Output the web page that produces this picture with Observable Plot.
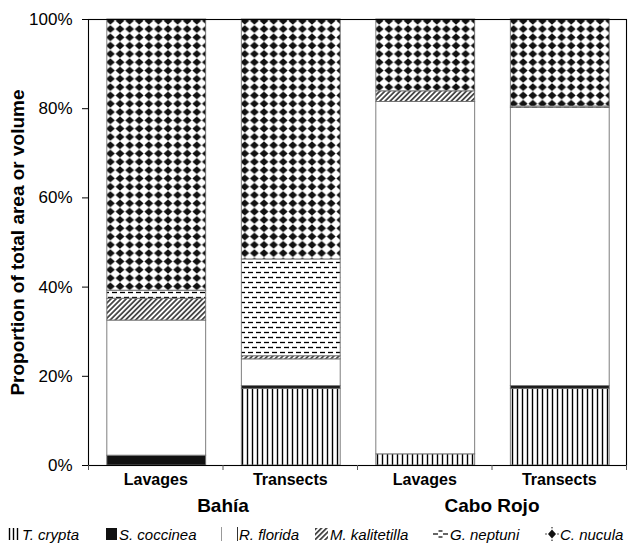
<!DOCTYPE html>
<html><head><meta charset="utf-8">
<script src="https://cdn.jsdelivr.net/npm/d3@7"></script>
<script src="https://cdn.jsdelivr.net/npm/@observablehq/plot@0.6"></script>
<style>
body{margin:0;background:#fff;font-family:"Liberation Sans",Arial,sans-serif;}
#chart{position:relative;width:628px;}
.legend{position:relative;height:26px;width:628px;}
.item{position:absolute;top:5px;height:22px;display:flex;align-items:center;font-style:italic;font-size:15px;color:#000;white-space:nowrap;}
.item svg{display:block;}
</style></head><body><div id="chart"></div>
<script>
// ---- data ----
const categories = ["Lavages", "Transects", "Lavages", "Transects"];
const sites = ["Bahía", "Bahía", "Cabo Rojo", "Cabo Rojo"];
const siteNames = ["Bahía", "Cabo Rojo"];
const species = ["T. crypta", "S. coccinea", "R. florida", "M. kalitetilla", "G. neptuni", "C. nucula"];
// percent of total per bar (bottom to top order = species order)
const tCrypta      = [0.0, 17.2,  2.5, 17.2];
const sCoccinea    = [2.2,  0.6,  0.0,  0.6];
const rFlorida     = [30.3, 6.0, 79.0, 62.4];
const mKalitetilla = [4.9,  0.7,  2.4,  0.0];
const gNeptuni     = [1.8, 21.7,  0.0,  0.3];
const cNucula      = [60.8, 53.8, 16.1, 19.5];
const yTicks = [0, 20, 40, 60, 80, 100];
const yLabel = "Proportion of total area or volume";

// ---- build table ----
const seriesValues = [tCrypta, sCoccinea, rFlorida, mKalitetilla, gNeptuni, cNucula];
const patternIds = ["p-tc", "p-sc", "p-rf", "p-mk", "p-gn", "p-cn"];
const rows = [];
categories.forEach((cat, i) => {
  let acc = 0;
  species.forEach((sp, s) => {
    const v = seriesValues[s][i];
    if (v > 0) {
      rows.push({bar: i, x1: i + 0.14, x2: i + 0.875, y1: acc, y2: acc + v, fill: `url(#${patternIds[s]})`, species: sp});
    }
    acc += v;
  });
});
const catRows = categories.map((c, i) => ({xc: i + 0.5, text: c}));
const siteRows = siteNames.map((s, j) => ({xc: 2 * j + 1, text: s}));
const boundaries = d3.range(0, categories.length + 1);

const svg = Plot.plot({
  width: 628, height: 518,
  marginTop: 19, marginLeft: 88, marginRight: 2, marginBottom: 53,
  x: {domain: [0, categories.length]},
  y: {domain: [0, 100]},
  color: {type: "identity"},
  style: {fontFamily: "Liberation Sans, Arial, sans-serif", background: "white", color: "black"},
  marks: [
    Plot.rect(rows, {x1: "x1", x2: "x2", y1: "y1", y2: "y2", fill: "fill", stroke: "#707070", strokeWidth: 0.9}),
    Plot.frame({stroke: "black", strokeWidth: 1.1}),
    Plot.axisY(yTicks, {tickSize: 6, tickPadding: 10, tickFormat: d => d + "%", fontSize: 17, label: null, stroke: "black"}),
    Plot.axisX(boundaries, {tickSize: 5, tickFormat: () => "", label: null, stroke: "#555"}),
    Plot.text(catRows, {x: "xc", text: "text", frameAnchor: "bottom", dy: 19, fontWeight: "bold", fontSize: 16}),
    Plot.text(siteRows, {x: "xc", text: "text", frameAnchor: "bottom", dy: 46, fontWeight: "bold", fontSize: 19}),
    Plot.text([yLabel], {frameAnchor: "left", textAnchor: "middle", rotate: -90, dx: -71, fontWeight: "bold", fontSize: 19})
  ]
});

// ---- patterns ----
const defs = d3.select(svg).insert("defs", ":first-child");
function pat(id, w, h, transform) {
  const p = defs.append("pattern").attr("id", id).attr("patternUnits", "userSpaceOnUse")
    .attr("width", w).attr("height", h);
  if (transform) p.attr("patternTransform", transform);
  p.append("rect").attr("width", w).attr("height", h).attr("fill", "white");
  return p;
}
// T. crypta: vertical lines
pat("p-tc", 5, 10).append("line").attr("x1", 2.5).attr("x2", 2.5).attr("y1", 0).attr("y2", 10)
  .attr("stroke", "black").attr("stroke-width", 1.4);
// S. coccinea: solid black
defs.append("pattern").attr("id", "p-sc").attr("patternUnits", "userSpaceOnUse").attr("width", 4).attr("height", 4)
  .append("rect").attr("width", 4).attr("height", 4).attr("fill", "#111");
// R. florida: white
pat("p-rf", 4, 4);
// M. kalitetilla: diagonal hatch
pat("p-mk", 3.6, 3.6, "rotate(45)").append("line").attr("x1", 1.8).attr("x2", 1.8).attr("y1", 0).attr("y2", 3.6)
  .attr("stroke", "black").attr("stroke-width", 1.3);
// G. neptuni: staggered horizontal dashes
{
  const p = pat("p-gn", 16, 10);
  [[0, 2.5, 5], [8, 2.5, 13], [4, 7.5, 9], [12, 7.5, 16]].forEach(([a, y, b]) =>
    p.append("line").attr("x1", a).attr("x2", b).attr("y1", y).attr("y2", y).attr("stroke", "black").attr("stroke-width", 1.3));
  p.append("line").attr("x1", 0).attr("x2", 1).attr("y1", 7.5).attr("y2", 7.5).attr("stroke", "black").attr("stroke-width", 1.3);
}
// C. nucula: diamond lattice
{
  const w = 9.6, h = 8.3, k = 0.92;
  const p = pat("p-cn", w, h);
  const cx = w / 2, cy = h / 2, rx = w / 2 * k, ry = h / 2 * k;
  p.append("path").attr("d", `M${cx},${cy - ry}L${cx + rx},${cy}L${cx},${cy + ry}L${cx - rx},${cy}Z`).attr("fill", "#111");
}

document.getElementById("chart").appendChild(svg);

// ---- legend ----
const legend = d3.select("body").append("div").attr("class", "legend");
const swatches = [
  {left: 8, w: 13, h: 14, draw: g => [1.5, 5.5, 9.5].forEach(x => g.append("line").attr("x1", x).attr("x2", x).attr("y1", 1).attr("y2", 13).attr("stroke", "black").attr("stroke-width", 1.4))},
  {left: 106, w: 12, h: 14, draw: g => g.append("rect").attr("x", 0).attr("y", 1).attr("width", 11).attr("height", 12).attr("fill", "#111")},
  {left: 221, w: 17, h: 14, draw: g => [0.5, 16.5].forEach((x, j) => g.append("line").attr("x1", x).attr("x2", x).attr("y1", 0).attr("y2", 14).attr("stroke", j ? "#333" : "#999").attr("stroke-width", 1))},
  {left: 315, w: 14, h: 14, draw: g => g.append("rect").attr("x", 0).attr("y", 1).attr("width", 13).attr("height", 12).attr("fill", "url(#p-mk)")},
  {left: 433, w: 16, h: 14, draw: g => {
    [[0, 7, 5], [10, 7, 15]].forEach(([a, y, b]) => g.append("line").attr("x1", a).attr("x2", b).attr("y1", y).attr("y2", y).attr("stroke", "black").attr("stroke-width", 1.2));
    [[5.5, 4, 9.5], [5.5, 10, 9.5]].forEach(([a, y, b]) => g.append("line").attr("x1", a).attr("x2", b).attr("y1", y).attr("y2", y).attr("stroke", "black").attr("stroke-width", 1.2));
  }},
  {left: 545, w: 14, h: 14, draw: g => {
    g.append("path").attr("d", "M7,2.5L11,7L7,11.5L3,7Z").attr("fill", "#111");
    [[1, 7], [13, 7], [7, 0.8], [7, 13.2]].forEach(([x, y]) => g.append("circle").attr("cx", x).attr("cy", y).attr("r", 0.8).attr("fill", "#333"));
  }}
];
species.forEach((sp, s) => {
  const sw = swatches[s];
  const item = legend.append("div").attr("class", "item").style("left", sw.left + "px");
  const g = item.append("svg").attr("width", sw.w).attr("height", sw.h);
  sw.draw(g);
  item.append("span").style("margin-left", "1px").text(sp);
});
</script>
</body></html>
